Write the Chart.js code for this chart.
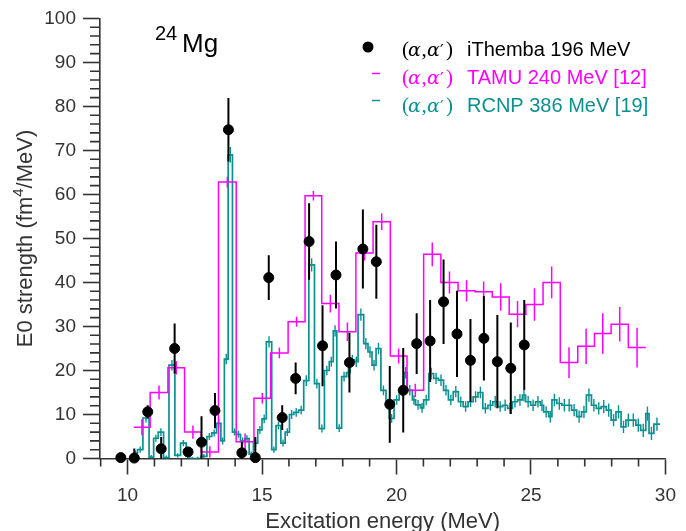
<!DOCTYPE html>
<html>
<head>
<meta charset="utf-8">
<title>24Mg E0 strength</title>
<script src="https://cdn.jsdelivr.net/npm/chart.js@4.4.1/dist/chart.umd.min.js"></script>
<style>
  html, body { margin: 0; padding: 0; background: #fff; }
  #wrap { position: relative; width: 686px; height: 531px; }
</style>
</head>
<body>
<div id="wrap"><canvas id="e0Chart" width="686" height="531"></canvas></div>
<script>
/* ============ DATA ============ */
// (a,a') iThemba 196 MeV: excitation energy, E0 strength, error
const ithembaE = [9.75, 10.25, 10.75, 11.25, 11.75, 12.25, 12.75, 13.25, 13.75, 14.25, 14.75, 15.25, 15.75, 16.25, 16.75, 17.25,
  17.75, 18.25, 18.75, 19.25, 19.75, 20.25, 20.75, 21.25, 21.75, 22.25, 22.75, 23.25, 23.75, 24.25, 24.75];
const ithembaS = [0.2, 0.1, 10.6, 2.2, 25.0, 1.5, 3.7, 10.9, 74.7, 1.3, 0.2, 41.1, 9.3, 18.2, 49.3, 25.6,
  41.7, 21.8, 47.6, 44.7, 12.3, 15.5, 26.1, 26.7, 35.6, 28.3, 22.3, 27.3, 22.0, 20.5, 25.8];
const ithembaErr = [0.5, 2.2, 1.5, 2.7, 5.7, 1.0, 5.9, 4.0, 7.2, 2.5, 4.7, 5.1, 2.8, 3.6, 8.7, 9.2,
  7.6, 6.8, 9.0, 8.4, 8.7, 9.6, 6.9, 9.3, 9.6, 9.8, 9.4, 9.6, 10.6, 10.4, 10.2];

// (a,a') TAMU 240 MeV [12]: histogram bin edges, strength, error
const tamuEdges = [10.23, 10.84, 11.5, 12.12, 12.74, 13.38, 14.04, 14.7, 15.32, 15.97, 16.6, 17.22, 17.86, 18.49, 19.13, 19.77,
  20.39, 21.01, 21.65, 22.29, 22.92, 23.56, 24.19, 24.81, 25.45, 26.09, 26.74, 27.36, 27.98, 28.62, 29.27];
const tamuS = [7.1, 15.0, 20.6, 6.0, 1.5, 62.8, 3.8, 13.7, 24.0, 31.1, 59.7, 35.2, 28.8, 46.7, 53.8,
  23.3, 15.5, 46.4, 40.0, 38.1, 37.9, 36.7, 32.8, 35.0, 40.0, 21.8, 25.5, 28.4, 30.5, 25.2];
const tamuErr = [1.8, 1.6, 1.5, 1.5, 1.3, 1.2, 1.9, 1.2, 1.2, 1.1, 1.1, 2.0, 2.1, 1.7, 1.9,
  1.7, 1.5, 2.7, 2.5, 2.4, 2.3, 3.1, 3.0, 3.7, 3.6, 3.5, 4.0, 4.6, 3.9, 4.5];

// (a,a') RCNP 386 MeV [19]: histogram bin edges, strength, error
const rcnpEdges = [10.22, 10.37, 10.57, 10.80, 10.97, 11.14, 11.34, 11.54, 11.76, 11.97, 12.18, 12.30, 12.50, 12.72, 12.95,
  13.13, 13.31, 13.47, 13.60, 13.74, 13.90, 14.05, 14.20, 14.36, 14.52, 14.68, 14.84, 15.00, 15.16, 15.36, 15.52, 15.70,
  15.86, 16.02, 16.18, 16.36, 16.55, 16.74, 16.95, 17.13, 17.32, 17.50, 17.65, 17.78, 17.96, 18.14, 18.28, 18.44, 18.57,
  18.78, 18.94, 19.09, 19.24, 19.42, 19.61, 19.73, 19.91, 20.10, 20.28, 20.40, 20.59, 20.71, 20.89, 21.01, 21.20, 21.38,
  21.56, 21.75, 21.93, 22.11, 22.30, 22.48, 22.66, 22.85, 23.03, 23.21, 23.40, 23.58, 23.76, 23.95, 24.13, 24.31, 24.50,
  24.68, 24.80, 24.99, 25.17, 25.35, 25.47, 25.66, 25.78, 25.96, 26.15, 26.33, 26.51, 26.70, 26.88, 27.06, 27.25, 27.43,
  27.61, 27.80, 27.98, 28.16, 28.35, 28.53, 28.71, 28.90, 29.08, 29.27, 29.39, 29.57, 29.80];
const rcnpS = [1.2, 2.0, 9.2, 0.3, 4.6, 6.0, 0.2, 21.2, 0.7, 3.5, 0.6, 0.0, 0.0, 0.5, 5.0, 5.8, 8.0, 4.0, 22.6, 69.0,
  6.0, 5.5, 4.0, 4.5, 1.0, 3.5, 6.5, 9.0, 26.5, 2.0, 7.5, 3.5, 6.0, 10.0, 10.5, 11.0, 17.7, 44.0, 17.0, 6.8,
  20.0, 22.0, 29.0, 6.9, 18.6, 19.5, 22.4, 22.0, 32.7, 26.1, 24.2, 21.2, 25.0, 15.5, 12.5, 9.1, 13.3, 15.5, 19.5, 15.5,
  13.3, 12.2, 11.5, 13.3, 19.3, 18.2, 17.8, 15.5, 13.3, 15.2, 12.9, 11.8, 12.9, 14.0, 15.0, 11.4, 12.1, 12.9, 11.8, 12.1,
  11.4, 12.9, 13.3, 14.4, 12.9, 12.1, 12.9, 12.1, 10.6, 9.5, 13.3, 12.5, 12.1, 12.1, 11.0, 9.5, 10.6, 14.4, 12.1, 11.4,
  11.8, 11.0, 8.7, 10.6, 7.2, 8.7, 8.7, 7.6, 6.4, 10.2, 5.7, 7.8];
const rcnpErr = [0.6, 0.7, 1.0, 0.5, 0.8, 0.9, 0.5, 1.2, 0.5, 0.7, 0.5, 0.4, 0.4, 0.5, 0.8, 0.8, 1.0, 0.8, 1.2, 1.8,
  0.8, 0.8, 0.8, 0.8, 0.6, 0.8, 0.9, 1.0, 1.3, 0.7, 0.9, 0.8, 0.9, 1.0, 1.0, 1.0, 1.2, 1.5, 1.1, 0.9,
  1.1, 1.1, 1.3, 0.9, 1.1, 1.1, 1.2, 1.2, 1.4, 1.3, 1.3, 1.2, 1.3, 1.1, 1.1, 1.0, 1.1, 1.2, 1.3, 1.2,
  1.1, 1.1, 1.1, 1.2, 1.3, 1.3, 1.3, 1.2, 1.2, 1.3, 1.2, 1.2, 1.2, 1.3, 1.3, 1.2, 1.2, 1.3, 1.2, 1.3,
  1.2, 1.3, 1.3, 1.4, 1.3, 1.3, 1.3, 1.3, 1.3, 1.3, 1.4, 1.4, 1.4, 1.4, 1.4, 1.4, 1.4, 1.5, 1.4, 1.4,
  1.5, 1.5, 1.4, 1.5, 1.4, 1.5, 1.5, 1.5, 1.5, 1.6, 1.5, 1.5];

// axis ticks
const xMajorTicks = [10, 15, 20, 25, 30];
const yMajorTicks = [0, 10, 20, 30, 40, 50, 60, 70, 80, 90, 100];

/* ============ STYLE ============ */
const AXIS = '#333333';
const MAGENTA = '#ff00ff';
const TEAL = '#0b9090';
const SANS = '"Liberation Sans", Arial, sans-serif';
const SERIF = '"Liberation Serif", "DejaVu Serif", serif';

/* ============ HELPERS ============ */
// step line points: one point per bin start, plus the closing edge
function histPoints(edges, vals) {
  const pts = vals.map((v, i) => ({ x: edges[i], y: v }));
  pts.push({ x: edges[edges.length - 1], y: vals[vals.length - 1] });
  return pts;
}
function binCenters(edges) {
  return edges.slice(0, -1).map((e, i) => (e + edges[i + 1]) / 2);
}

/* ============ PLUGINS ============ */
// vertical error bars, drawn right after their own dataset
const errorBars = {
  id: 'errorBars',
  afterDatasetDraw(chart, args) {
    const ds = chart.data.datasets[args.index];
    if (!ds.err) return;
    const { ctx, chartArea, scales: { x, y } } = chart;
    ctx.save();
    ctx.beginPath();
    ctx.rect(chartArea.left, chartArea.top, chartArea.right - chartArea.left, chartArea.bottom - chartArea.top);
    ctx.clip();
    ctx.strokeStyle = ds.err.color;
    ctx.lineWidth = ds.err.width;
    ctx.beginPath();
    ds.err.x.forEach((xv, i) => {
      const px = x.getPixelForValue(xv);
      ctx.moveTo(px, y.getPixelForValue(ds.err.v[i] - ds.err.d[i]));
      ctx.lineTo(px, y.getPixelForValue(ds.err.v[i] + ds.err.d[i]));
    });
    ctx.stroke();
    ctx.restore();
  },
};

// (alpha,alpha') prefix in math style, glyphs at fixed offsets
function drawAlphaPrefix(ctx, x0, base, color) {
  ctx.fillStyle = color;
  ctx.textBaseline = 'alphabetic';
  const up = '21px ' + SERIF;
  const it = 'italic 19px "DejaVu Serif", serif';
  const parts = [
    ['(', up, 0], ['\u03b1', it, 6], [',', up, 19.5], ['\u03b1', it, 25],
    ['\u2032', '17px "DejaVu Serif", serif', 38], [')', up, 44],
  ];
  parts.forEach(([t, f, dx]) => {
    ctx.font = f;
    ctx.fillText(t, x0 + dx, base);
  });
}

const decorations = {
  id: 'decorations',
  afterDraw(chart) {
    const { ctx, chartArea, scales: { x, y } } = chart;
    ctx.save();

    // minor ticks
    ctx.strokeStyle = AXIS;
    ctx.lineWidth = 1.6;
    ctx.beginPath();
    for (let v = 9; v <= 30; v++) {
      if (v % 5 === 0) continue;
      const px = x.getPixelForValue(v);
      ctx.moveTo(px, chartArea.bottom);
      ctx.lineTo(px, chartArea.bottom + 8);
    }
    for (let v = 2; v < 100; v += 2) {
      if (v % 10 === 0) continue;
      const py = y.getPixelForValue(v);
      ctx.moveTo(chartArea.left, py);
      ctx.lineTo(chartArea.left - 10, py);
    }
    ctx.stroke();

    // nucleus label
    ctx.fillStyle = '#000';
    ctx.textBaseline = 'alphabetic';
    ctx.font = '20px ' + SANS;
    ctx.fillText('24', 155, 40);
    ctx.font = '26px ' + SANS;
    ctx.fillText('Mg', 182, 52);

    // legend
    ctx.beginPath();
    ctx.arc(368, 47, 5.5, 0, Math.PI * 2);
    ctx.fill();
    drawAlphaPrefix(ctx, 402, 56, '#000');
    ctx.font = '20px ' + SANS;
    ctx.fillText('iThemba 196 MeV', 467, 56);

    ctx.lineWidth = 1.5;
    ctx.strokeStyle = MAGENTA;
    ctx.beginPath(); ctx.moveTo(372, 73.5); ctx.lineTo(380, 73.5); ctx.stroke();
    drawAlphaPrefix(ctx, 402, 84, MAGENTA);
    ctx.font = '20px ' + SANS;
    ctx.fillText('TAMU 240 MeV [12]', 467, 84);

    ctx.strokeStyle = TEAL;
    ctx.beginPath(); ctx.moveTo(372, 100.5); ctx.lineTo(380, 100.5); ctx.stroke();
    drawAlphaPrefix(ctx, 402, 112, TEAL);
    ctx.font = '20px ' + SANS;
    ctx.fillText('RCNP 386 MeV [19]', 467, 112);

    // axis titles
    ctx.fillStyle = AXIS;
    ctx.font = '22px ' + SANS;
    ctx.textAlign = 'center';
    ctx.fillText('Excitation energy (MeV)', (chartArea.left + chartArea.right) / 2, 528);
    ctx.textAlign = 'left';

    ctx.translate(32, (chartArea.top + chartArea.bottom) / 2);
    ctx.rotate(-Math.PI / 2);
    const a = 'E0 strength (fm', b = '4', c = '/MeV)';
    ctx.font = '22px ' + SANS;
    const wa = ctx.measureText(a).width, wc = ctx.measureText(c).width;
    ctx.font = '15px ' + SANS;
    const wb = ctx.measureText(b).width;
    let tx = -(wa + wb + wc) / 2;
    ctx.font = '22px ' + SANS; ctx.fillText(a, tx, 0); tx += wa;
    ctx.font = '15px ' + SANS; ctx.fillText(b, tx, -9); tx += wb;
    ctx.font = '22px ' + SANS; ctx.fillText(c, tx, 0);

    ctx.restore();
  },
};

/* ============ CHART ============ */
const ctx = document.getElementById('e0Chart');

new Chart(ctx, {
  type: 'line',
  data: {
    datasets: [
      {
        label: 'iThemba 196 MeV',
        data: ithembaE.map((e, i) => ({ x: e, y: ithembaS[i] })),
        showLine: false,
        pointRadius: 5,
        pointBorderWidth: 1,
        pointBackgroundColor: '#000',
        pointBorderColor: '#000',
        clip: false,
        err: { x: ithembaE, v: ithembaS, d: ithembaErr, color: '#000', width: 2 },
      },
      {
        label: 'TAMU 240 MeV',
        data: histPoints(tamuEdges, tamuS),
        stepped: 'before',
        borderColor: MAGENTA,
        borderWidth: 1.5,
        pointRadius: 0,
        fill: false,
        err: { x: binCenters(tamuEdges), v: tamuS, d: tamuErr, color: MAGENTA, width: 1.5 },
      },
      {
        label: 'RCNP 386 MeV',
        data: histPoints(rcnpEdges, rcnpS),
        stepped: 'before',
        borderColor: TEAL,
        borderWidth: 1.7,
        pointRadius: 0,
        fill: false,
        err: { x: binCenters(rcnpEdges), v: rcnpS, d: rcnpErr, color: TEAL, width: 1.4 },
      },
    ],
  },
  options: {
    responsive: false,
    devicePixelRatio: 1,
    animation: false,
    layout: { padding: { left: 0, right: 13, top: 18, bottom: 0 } },
    plugins: {
      legend: { display: false },
      tooltip: { enabled: false },
    },
    scales: {
      x: {
        type: 'linear',
        min: 8.975,
        max: 30,
        afterBuildTicks: (scale) => { scale.ticks = xMajorTicks.map((v) => ({ value: v })); },
        afterFit: (scale) => { scale.height = 72.5; },
        grid: { drawOnChartArea: false, drawTicks: true, tickLength: 16, tickColor: AXIS, tickWidth: 1.6 },
        border: { display: true, color: AXIS, width: 1.6 },
        ticks: { autoSkip: false, maxRotation: 0, padding: 10, color: AXIS, font: { family: SANS, size: 19 } },
      },
      y: {
        type: 'linear',
        min: 0,
        max: 100,
        afterBuildTicks: (scale) => { scale.ticks = yMajorTicks.map((v) => ({ value: v })); },
        afterFit: (scale) => { scale.width = 100; },
        grid: { drawOnChartArea: false, drawTicks: true, tickLength: 17, tickColor: AXIS, tickWidth: 1.6 },
        border: { display: true, color: AXIS, width: 1.6 },
        ticks: { autoSkip: false, padding: 7, color: AXIS, font: { family: SANS, size: 19 } },
      },
    },
  },
  plugins: [errorBars, decorations],
});
</script>
</body>
</html>
